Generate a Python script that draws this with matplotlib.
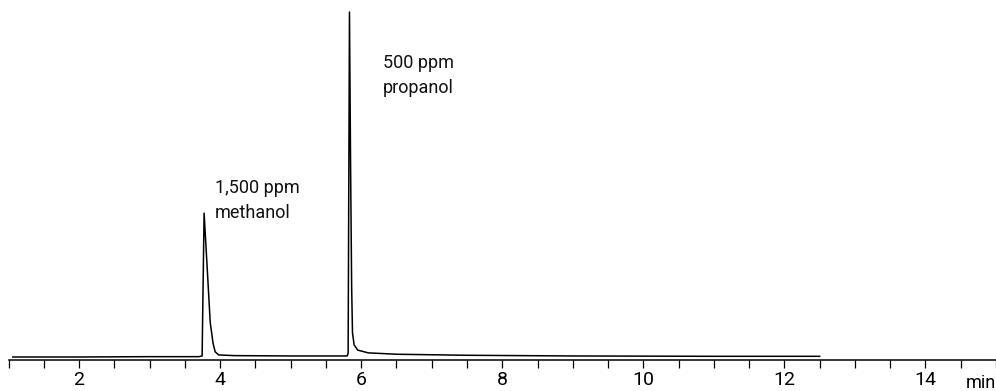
import matplotlib
matplotlib.use("Agg")
import matplotlib.pyplot as plt
from matplotlib.ticker import MultipleLocator

plt.rcParams['font.family'] = ['Roboto', 'DejaVu Sans']

# retention time (min) and detector signal (% of largest peak)
time = [1.06, 2.0, 3.0, 3.70, 3.745, 3.773, 3.80, 3.83, 3.86, 3.90, 3.93, 3.98,
        4.2, 5.0, 5.78, 5.80, 5.815, 5.834, 5.85, 5.865, 5.877, 5.90, 5.95,
        6.1, 6.5, 7.5, 9.0, 11.0, 12.5]
signal = [0.0, 0.0, 0.1, 0.1, 0.3, 41.7, 32.0, 21.0, 10.0, 4.0, 1.5, 0.6,
          0.4, 0.3, 0.3, 0.3, 1.0, 100.0, 55.0, 20.0, 7.0, 3.5, 2.0,
          1.2, 0.8, 0.5, 0.3, 0.2, 0.2]

# peak annotations: two lines each, baseline positions in data units
peak_lines = [("1,500 ppm", "methanol"), ("500 ppm", "propanol")]
label_x = [3.93, 6.31]
label_y = [47.5, 83.8]

major_ticks = [2, 4, 6, 8, 10, 12, 14]

fig = plt.figure(figsize=(9.96, 3.91), dpi=100)
ax = fig.add_axes([8.5 / 996, 31 / 391, 987.5 / 996, 360 / 391])

ax.plot(time, signal, color='black', lw=1.1)

for (l1, l2), x, y in zip(peak_lines, label_x, label_y):
    ax.text(x, y, l1, fontsize=13, va='baseline', ha='left', color='#111111')
    ax.text(x, y - 7.25, l2, fontsize=13, va='baseline', ha='left', color='#111111')

ax.set_xlim(1.0, 15.0)
ax.set_ylim(-0.87, 103.5)

for s in ['top', 'left', 'right']:
    ax.spines[s].set_visible(False)
ax.spines['bottom'].set_linewidth(1.1)
ax.set_yticks([])
ax.set_xticks(major_ticks)
ax.xaxis.set_minor_locator(MultipleLocator(0.5))
ax.tick_params(axis='x', which='both', direction='out', length=5.5, width=0.9, pad=2.5)
ax.tick_params(axis='x', which='major', labelsize=14)

fig.text(966 / 996, 3 / 391, "min", fontsize=13, ha='left', va='baseline')

fig.savefig("out.png", dpi=100)
